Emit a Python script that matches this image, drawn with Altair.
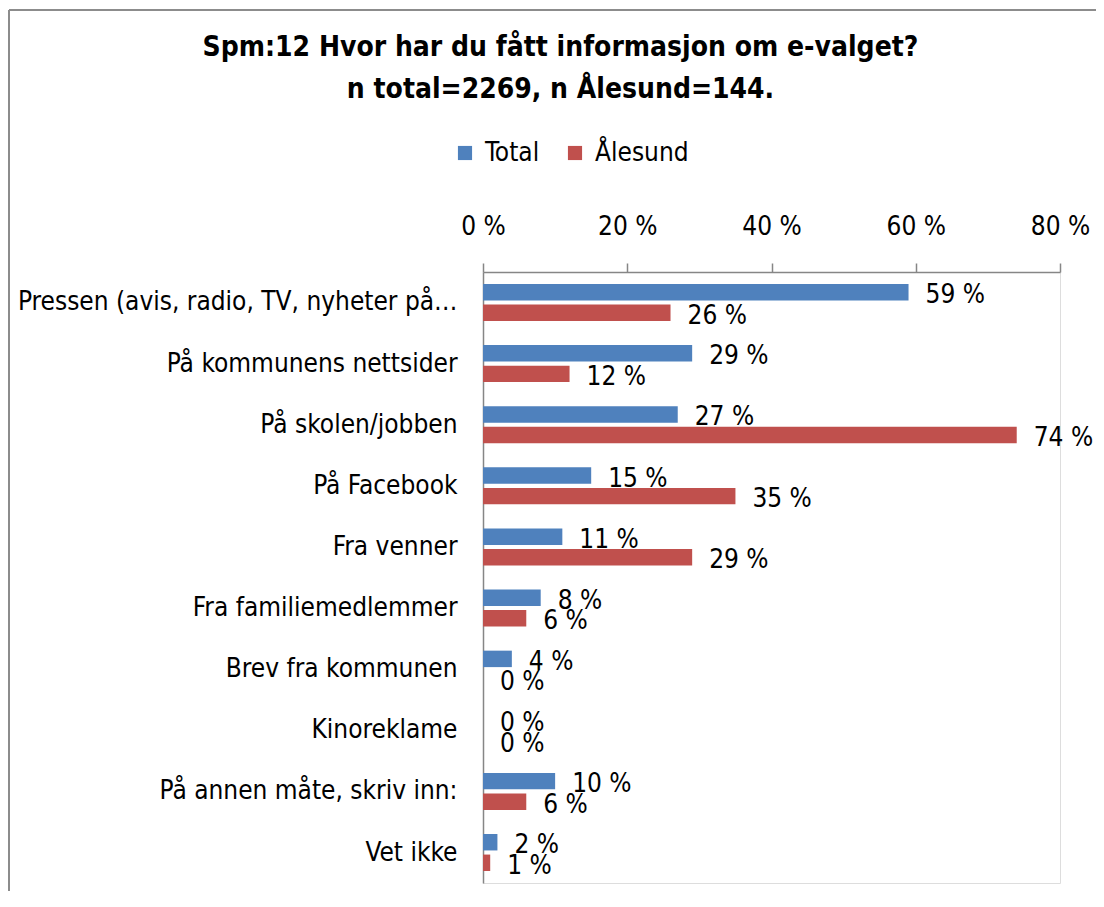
import altair as alt
import pandas as pd

categories = [
    "Pressen (avis, radio, TV, nyheter på…",
    "På kommunens nettsider",
    "På skolen/jobben",
    "På Facebook",
    "Fra venner",
    "Fra familiemedlemmer",
    "Brev fra kommunen",
    "Kinoreklame",
    "På annen måte, skriv inn:",
    "Vet ikke",
]
series = ["Total", "Ålesund"]
total_values = [59, 29, 27, 15, 11, 8, 4, 0, 10, 2]
alesund_values = [26, 12, 74, 35, 29, 6, 0, 0, 6, 1]
x_ticks = [0, 20, 40, 60, 80]
colors = ["#4F81BD", "#C0504D"]

rows = []
for c, t, a in zip(categories, total_values, alesund_values):
    rows.append({"cat": c, "series": "Total", "value": t, "label": f"{t} %"})
    rows.append({"cat": c, "series": "Ålesund", "value": a, "label": f"{a} %"})
df = pd.DataFrame(rows)

FONT = "DejaVu Sans Condensed, Liberation Sans Narrow, sans-serif"
FS = 26

y_enc = alt.Y(
    "cat:N",
    sort=categories,
    scale=alt.Scale(paddingInner=0.394, paddingOuter=0.196),
    axis=alt.Axis(
        title=None,
        ticks=False,
        domainColor="#868686",
        domainWidth=1.5,
        labelPadding=26,
        labelFontSize=FS,
        labelColor="black",
        labelFont=FONT,
        labelLimit=700,
    ),
)
yoff_enc = alt.YOffset("series:N", sort=series, scale=alt.Scale(paddingInner=0.2))
x_enc = alt.X(
    "value:Q",
    scale=alt.Scale(domain=[0, 80], nice=False),
    axis=alt.Axis(
        orient="top",
        values=x_ticks,
        labelExpr="datum.value + ' %'",
        labelFlush=False,
        title=None,
        grid=False,
        tickSize=9,
        tickColor="#868686",
        tickWidth=1.5,
        domainColor="#868686",
        domainWidth=1.5,
        labelPadding=24,
        labelFontSize=FS,
        labelColor="black",
        labelFont=FONT,
    ),
)

base = alt.Chart(df).encode(y=y_enc, yOffset=yoff_enc)

bars = base.mark_bar().encode(
    x=x_enc,
    color=alt.Color(
        "series:N",
        sort=series,
        scale=alt.Scale(domain=series, range=colors),
        legend=alt.Legend(
            title=None,
            orient="none",
            legendX=-31,
            legendY=-132,
            direction="horizontal",
            symbolType="square",
            symbolSize=200,
            symbolStrokeWidth=0,
            labelFontSize=FS,
            labelFont=FONT,
            labelColor="black",
            columnPadding=22,
            labelOffset=7,
        ),
    ),
)

labels = base.mark_text(
    align="left", baseline="middle", dx=17, dy=3, fontSize=FS, font=FONT, color="black"
).encode(x=alt.X("value:Q"), text="label:N")

frame = alt.Data(values=[{"k": 1}])
left_border = alt.Chart(frame).mark_rule(color="#8c8c8c", strokeWidth=2).encode(
    x=alt.value(-474), y=alt.value(-262), y2=alt.value(640)
)
top_border = alt.Chart(frame).mark_rule(color="#8c8c8c", strokeWidth=2).encode(
    x=alt.value(-474), x2=alt.value(640), y=alt.value(-262)
)

chart = (
    alt.layer(left_border, top_border, bars, labels)
    .properties(
        width=577,
        height=611,
        padding={"left": 475, "top": 264, "right": 36, "bottom": 8},
        autosize=alt.AutoSizeParams(type="none"),
        title=alt.TitleParams(
            text=["Spm:12 Hvor har du fått informasjon  om e-valget?", "n total=2269, n Ålesund=144."],
            fontSize=28,
            fontWeight="bold",
            font=FONT,
            color="black",
            anchor="middle",
            frame="group",
            dx=-211,
            offset=-95,
            lineHeight=42,
        ),
    )
    .configure_view(strokeWidth=0)
    .configure(background="white")
)

chart.save("out.html", embed_options={"renderer": "svg", "actions": False})
